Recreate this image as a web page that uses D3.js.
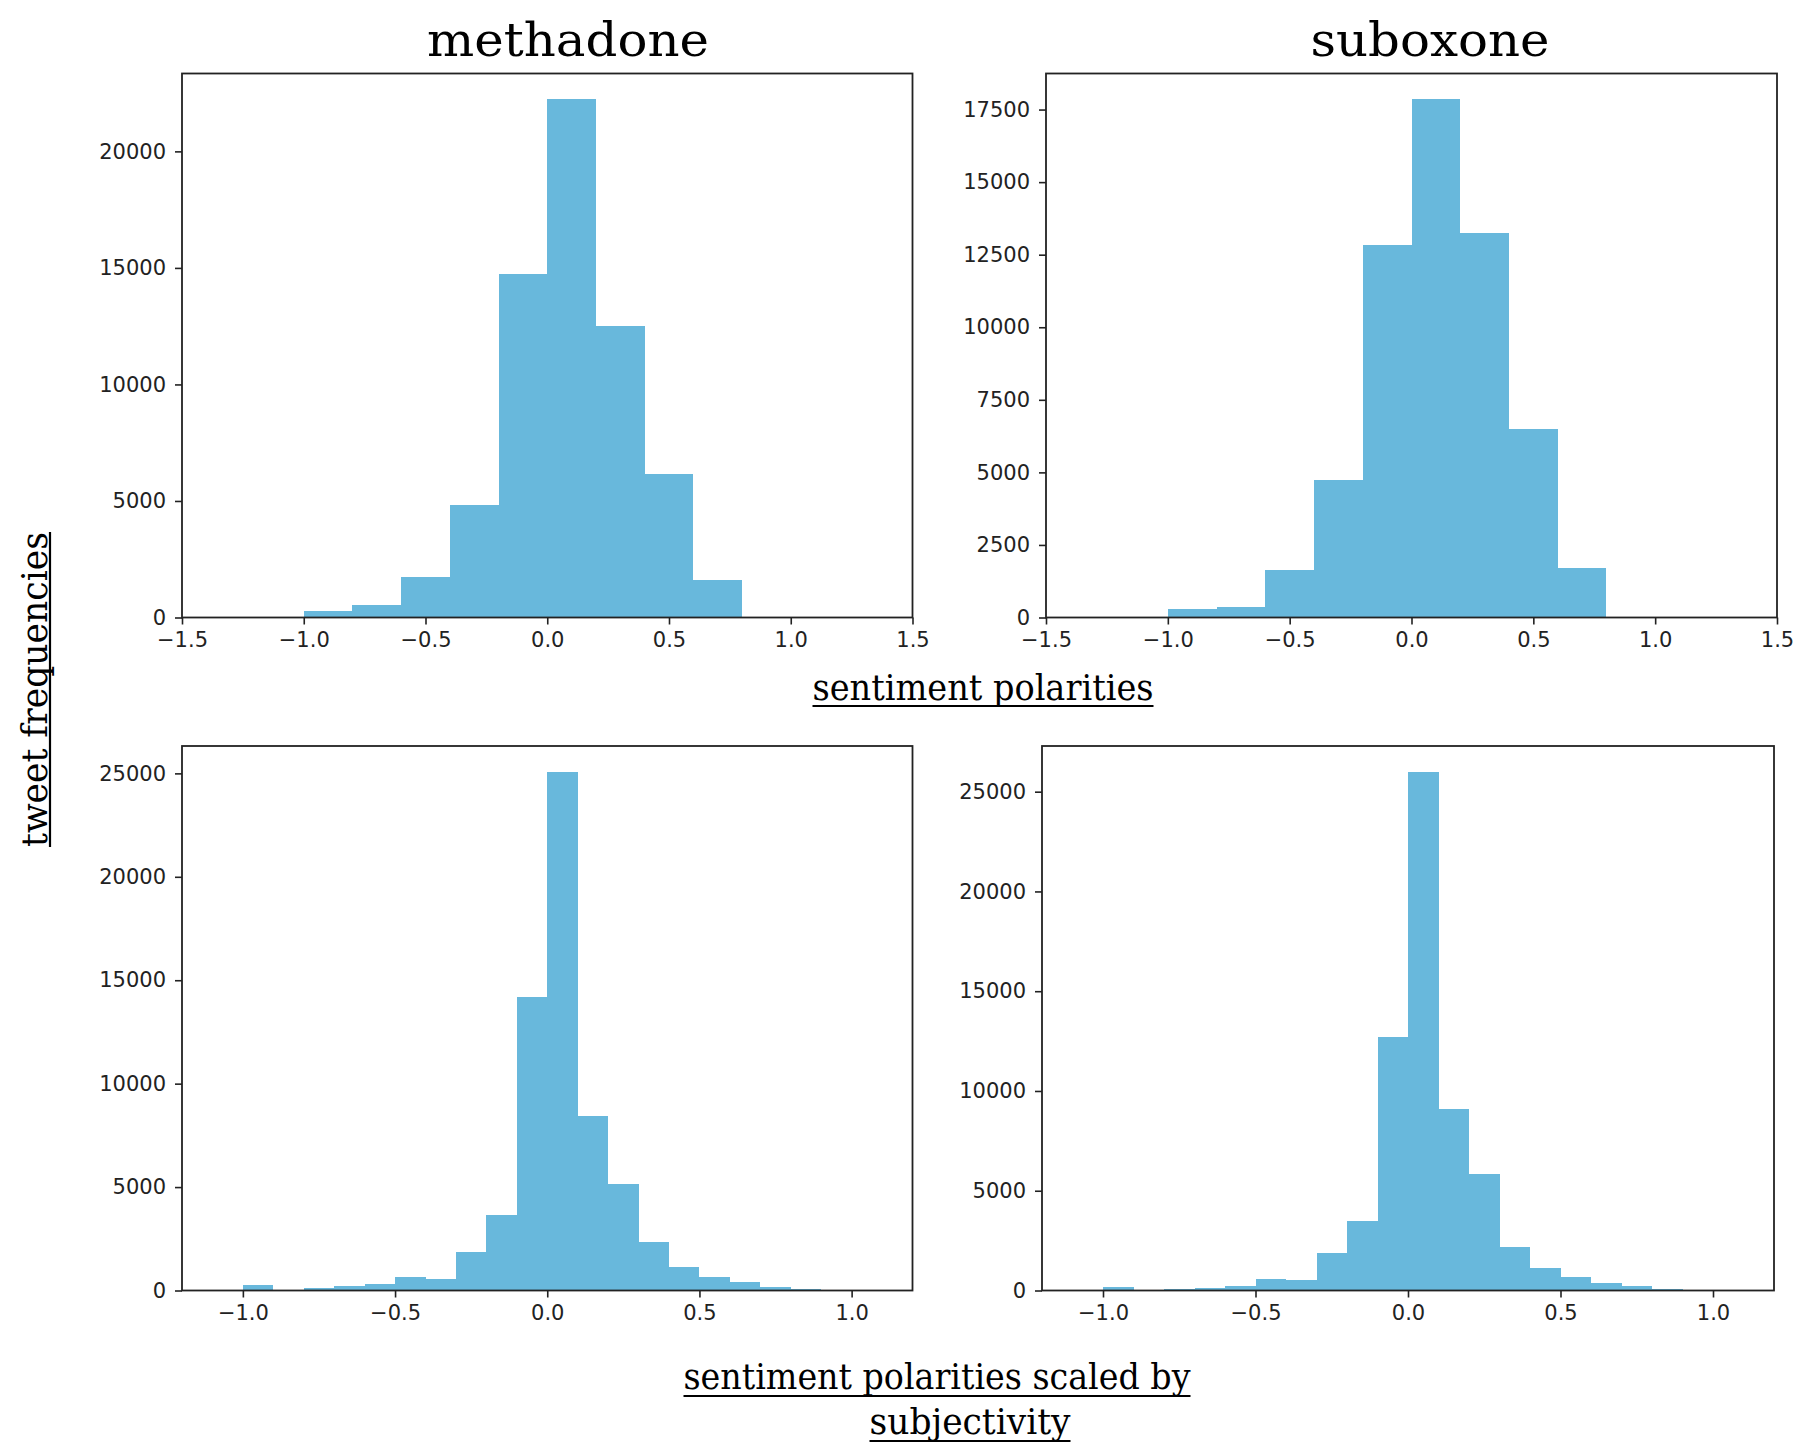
<!DOCTYPE html>
<html><head><meta charset="utf-8">
<script src="https://cdn.jsdelivr.net/npm/d3@7"></script>
<style>body{margin:0;background:#fff}svg{display:block}</style>
</head><body><svg id="c" width="1800" height="1453"></svg>
<script>
// ---------- data ----------
const topBinStarts = [-1.0, -0.8, -0.6, -0.4, -0.2, 0.0, 0.2, 0.4, 0.6];
const topBinWidth = 0.2;
const methadonePolarity = [270, 520, 1720, 4830, 14750, 22230, 12490, 6150, 1590];
const suboxonePolarity  = [280, 350, 1630, 4730, 12830, 17850, 13250, 6490, 1690];

const bottomBinStarts = [-1.0, -0.9, -0.8, -0.7, -0.6, -0.5, -0.4, -0.3, -0.2, -0.1,
                          0.0, 0.1, 0.2, 0.3, 0.4, 0.5, 0.6, 0.7, 0.8, 0.9];
const bottomBinWidth = 0.1;
const methadoneScaled = [250, 0, 145, 220, 300, 660, 570, 1860, 3650, 14170,
                         25070, 8420, 5140, 2360, 1150, 670, 430, 170, 85, 0];
const suboxoneScaled  = [170, 0, 80, 150, 250, 590, 540, 1870, 3490, 12720,
                         25990, 9090, 5840, 2170, 1110, 700, 395, 245, 90, 0];

const topXTicks = [-1.5, -1.0, -0.5, 0.0, 0.5, 1.0, 1.5];
const bottomXTicks = [-1.0, -0.5, 0.0, 0.5, 1.0];
const methadoneYTicks = [0, 5000, 10000, 15000, 20000];
const suboxoneYTicks = [0, 2500, 5000, 7500, 10000, 12500, 15000, 17500];
const scaledYTicks = [0, 5000, 10000, 15000, 20000, 25000];

const columnTitles = ["methadone", "suboxone"];
const yLabel = "tweet frequencies";
const topXLabel = "sentiment polarities";
const bottomXLabelLines = ["sentiment polarities scaled by", "subjectivity"];

// ---------- drawing ----------
const svg = d3.select("#c");
const barColor = "#68b8dc";
const inkColor = "#222";
const serif = "'DejaVu Serif', serif";
const sans = "'DejaVu Sans', sans-serif";

const panels = [
  {starts: topBinStarts, w: topBinWidth, vals: methadonePolarity, xDom: [-1.5, 1.5], xt: topXTicks, yt: methadoneYTicks,
   box: {l: 182, r: 912.5, t: 73.5, b: 617.5}},
  {starts: topBinStarts, w: topBinWidth, vals: suboxonePolarity, xDom: [-1.5, 1.5], xt: topXTicks, yt: suboxoneYTicks,
   box: {l: 1046, r: 1777, t: 73.5, b: 617.5}},
  {starts: bottomBinStarts, w: bottomBinWidth, vals: methadoneScaled, xDom: [-1.2, 1.2], xt: bottomXTicks, yt: scaledYTicks,
   box: {l: 182, r: 912.5, t: 746, b: 1290.5}},
  {starts: bottomBinStarts, w: bottomBinWidth, vals: suboxoneScaled, xDom: [-1.2, 1.2], xt: bottomXTicks, yt: scaledYTicks,
   box: {l: 1042, r: 1774, t: 746, b: 1290.5}}
];

panels.forEach(p => {
  const B = p.box;
  const x = d3.scaleLinear().domain(p.xDom).range([B.l, B.r]);
  const y = d3.scaleLinear().domain([0, d3.max(p.vals) * 1.05]).range([B.b, B.t]);
  const g = svg.append("g");
  const bins = p.starts.map((s, i) => ({s: s, v: p.vals[i]})).filter(d => d.v > 0);
  g.selectAll("rect.bar").data(bins).enter().append("rect")
    .attr("class", "bar")
    .attr("x", d => Math.round(x(d.s)))
    .attr("width", d => Math.round(x(d.s + p.w)) - Math.round(x(d.s)))
    .attr("y", d => y(d.v))
    .attr("height", d => y(0) - y(d.v))
    .attr("fill", barColor)
    .attr("shape-rendering", "crispEdges");

  const ax = g.append("g").attr("transform", `translate(0,${B.b})`)
    .call(d3.axisBottom(x).tickValues(p.xt).tickSize(7).tickPadding(8).tickFormat(d3.format(".1f")));
  const ay = g.append("g").attr("transform", `translate(${B.l},0)`)
    .call(d3.axisLeft(y).tickValues(p.yt).tickSize(7).tickPadding(9).tickFormat(d3.format("d")));
  [ax, ay].forEach(a => {
    a.select(".domain").remove();
    a.selectAll("line").attr("stroke", inkColor).attr("stroke-width", 1.6);
    a.selectAll("text").attr("fill", inkColor).style("font-family", sans).style("font-size", "21px");
  });

  g.append("rect").attr("x", B.l).attr("y", B.t).attr("width", B.r - B.l).attr("height", B.b - B.t)
    .attr("fill", "none").attr("stroke", inkColor).attr("stroke-width", 1.8);
});

function label(text, cx, baseline, width, size, underlineOffset) {
  const g = svg.append("g").attr("transform", `translate(${cx},${baseline})`);
  g.append("text").text(text)
    .attr("x", 0).attr("y", 0)
    .attr("text-anchor", "middle")
    .attr("textLength", width).attr("lengthAdjust", "spacingAndGlyphs")
    .style("font-family", serif).style("font-size", size + "px").attr("fill", "#000");
  if (underlineOffset != null) {
    g.append("line").attr("x1", -width / 2).attr("x2", width / 2)
      .attr("y1", underlineOffset).attr("y2", underlineOffset)
      .attr("stroke", "#000").attr("stroke-width", 2.2);
  }
}

// column titles
label(columnTitles[0], 568, 56, 282, 47, null);
label(columnTitles[1], 1430, 56, 239, 47, null);
// axis labels
label(topXLabel, 983, 700, 341, 35, 6);
label(bottomXLabelLines[0], 937, 1389, 507, 35, 7);
label(bottomXLabelLines[1], 970, 1434, 201, 35, 7);
// rotated y label: center y 689.5, baseline at x 47
svg.append("g").attr("transform", "translate(47,689.5) rotate(-90)").call(g => {
  g.append("text").text(yLabel).attr("text-anchor", "middle")
    .attr("textLength", 315).attr("lengthAdjust", "spacingAndGlyphs")
    .style("font-family", serif).style("font-size", "35px").attr("fill", "#000");
  g.append("line").attr("x1", -157.5).attr("x2", 157.5).attr("y1", 3).attr("y2", 3)
    .attr("stroke", "#000").attr("stroke-width", 2.2);
});
</script>
</body></html>
